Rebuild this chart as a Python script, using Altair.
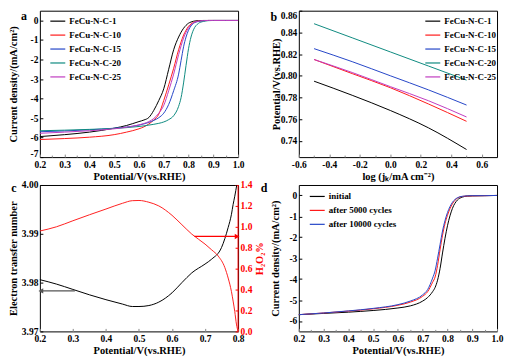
import altair as alt
import pandas as pd

FONT = "Liberation Serif"

# ---------------- panel a : LSV curves ----------------
a_potential = [0.2, 0.3, 0.4, 0.5, 0.55, 0.6, 0.62, 0.64, 0.66, 0.68, 0.7, 0.72, 0.74,
               0.76, 0.77, 0.78, 0.79, 0.8, 0.81, 0.82, 0.84, 0.86, 0.88, 0.9, 0.95, 1.0]
a_series = ["FeCu-N-C-1", "FeCu-N-C-10", "FeCu-N-C-15", "FeCu-N-C-20", "FeCu-N-C-25"]
a_colors = ["#000000", "#ff1a1a", "#2546c8", "#0e8a80", "#c03cc0"]
a_c1 = [-5.95, -5.85, -5.72, -5.52, -5.38, -5.18, -5.1, -4.97, -4.6, -4.1, -3.5, -2.5, -1.5,
        -0.85, -0.6, -0.4, -0.25, -0.14, -0.08, -0.04, -0.01, 0, 0, 0, 0, 0]
a_c10 = [-6.1, -6.05, -5.98, -5.85, -5.72, -5.55, -5.45, -5.3, -5.1, -4.8, -4.1, -3.3, -2.45,
         -1.5, -1.1, -0.75, -0.5, -0.3, -0.18, -0.1, -0.03, -0.01, 0, 0, 0, 0]
a_c15 = [-5.7, -5.66, -5.6, -5.52, -5.46, -5.36, -5.3, -5.22, -5.12, -4.98, -4.75, -4.3, -3.6,
         -2.75, -2.05, -1.35, -0.85, -0.5, -0.28, -0.15, -0.05, -0.02, 0, 0, 0, 0]
a_c20 = [-5.65, -5.62, -5.58, -5.53, -5.49, -5.43, -5.4, -5.36, -5.32, -5.27, -5.2, -5.08, -4.88,
         -4.4, -3.95, -3.2, -2.3, -1.45, -0.85, -0.48, -0.15, -0.05, -0.01, 0, 0, 0]
a_c25 = [-5.78, -5.72, -5.65, -5.55, -5.47, -5.35, -5.28, -5.18, -5.02, -4.75, -4.35, -3.6, -2.75,
         -1.75, -1.3, -0.9, -0.6, -0.38, -0.22, -0.12, -0.04, -0.01, 0, 0, 0, 0]
a_xticks = [0.2, 0.3, 0.4, 0.5, 0.6, 0.7, 0.8, 0.9, 1.0]
a_xminor = [0.25, 0.35, 0.45, 0.55, 0.65, 0.75, 0.85, 0.95]
a_yticks = [-7, -6, -5, -4, -3, -2, -1, 0]

# ---------------- panel b : Tafel ----------------
b_logj = [-0.5, -0.25, 0.0, 0.25, 0.5]
b_c1 = [0.795, 0.782, 0.768, 0.752, 0.732]
b_c10 = [0.815, 0.802, 0.789, 0.774, 0.758]
b_c15 = [0.825, 0.813, 0.800, 0.787, 0.773]
b_c20 = [0.848, 0.835, 0.822, 0.809, 0.796]
b_c25 = [0.815, 0.803, 0.790, 0.777, 0.762]
b_xticks = [-0.6, -0.4, -0.2, 0.0, 0.2, 0.4, 0.6]
b_xminor = [-0.5, -0.3, -0.1, 0.1, 0.3, 0.5]
b_yticks = [0.74, 0.76, 0.78, 0.80, 0.82, 0.84, 0.86]

# ---------------- panel c : n and H2O2 % ----------------
c_pot_n = [0.2, 0.25, 0.3, 0.35, 0.4, 0.45, 0.48, 0.5, 0.53, 0.56, 0.6, 0.63, 0.66, 0.7,
           0.72, 0.75, 0.77, 0.78, 0.785, 0.79, 0.796]
c_n = [3.9806, 3.9797, 3.9786, 3.9775, 3.9765, 3.9756, 3.9751, 3.9751, 3.9753, 3.9760, 3.9779,
       3.9800, 3.9820, 3.9838, 3.9848, 3.9872, 3.9913, 3.9940, 3.9960, 3.9977, 4.0]
c_pot_h = [0.2, 0.25, 0.3, 0.35, 0.4, 0.45, 0.48, 0.5, 0.53, 0.56, 0.6, 0.63, 0.66, 0.7,
           0.72, 0.74, 0.76, 0.77, 0.78, 0.785, 0.79, 0.795, 0.8]
c_h2o2 = [0.96, 1.0, 1.058, 1.115, 1.17, 1.225, 1.25, 1.252, 1.235, 1.2, 1.11, 1.02, 0.93, 0.835,
          0.78, 0.72, 0.61, 0.51, 0.38, 0.29, 0.19, 0.07, 0.0]
c_arrow_n = {"from": 0.306, "to": 0.203, "level": 3.9783}
c_arrow_h = {"from": 0.668, "to": 0.797, "level": 0.908}
c_xticks = [0.2, 0.3, 0.4, 0.5, 0.6, 0.7, 0.8]
c_yticks_left = [3.97, 3.98, 3.99, 4.00]
c_yticks_right = [0.0, 0.2, 0.4, 0.6, 0.8, 1.0, 1.2, 1.4]

# ---------------- panel d : stability ----------------
d_potential = [0.2, 0.3, 0.4, 0.5, 0.6, 0.65, 0.7, 0.72, 0.74, 0.75, 0.76, 0.77, 0.78, 0.79,
               0.8, 0.82, 0.84, 0.86, 0.88, 0.9, 0.95, 1.0]
d_series = ["initial", "after 5000 cycles", "after 10000 cycles"]
d_colors = ["#000000", "#ff1a1a", "#2546c8"]
d_initial = [-5.7, -5.64, -5.58, -5.5, -5.38, -5.28, -5.05, -4.88, -4.6, -4.4, -4.05, -3.5,
             -2.75, -2.05, -1.45, -0.62, -0.22, -0.08, -0.03, -0.02, -0.01, 0]
d_5000 = [-5.7, -5.62, -5.53, -5.42, -5.25, -5.1, -4.82, -4.6, -4.15, -3.9, -3.35, -2.6,
          -1.9, -1.35, -0.95, -0.4, -0.13, -0.05, -0.03, -0.02, -0.01, 0]
d_10000 = [-5.7, -5.62, -5.52, -5.4, -5.22, -5.05, -4.75, -4.5, -3.95, -3.6, -3.0, -2.35,
           -1.7, -1.2, -0.82, -0.33, -0.11, -0.04, -0.02, -0.01, -0.01, 0]
d_xticks = [0.2, 0.3, 0.4, 0.5, 0.6, 0.7, 0.8, 0.9, 1.0]
d_xminor = [0.25, 0.35, 0.45, 0.55, 0.65, 0.75, 0.85, 0.95]
d_yticks = [-6, -5, -4, -3, -2, -1, 0]

W, H = 199, 147
POT_TITLE = "Potential/V(vs.RHE)"
CD_TITLE = "Current density/(mA/cm²)"
HYPHEN = "replace(datum.label, '\u2212', '-')"


def long_df(xs, names, cols, xname, yname):
    rows = []
    for name, col in zip(names, cols):
        for x, y in zip(xs, col):
            rows.append({xname: x, yname: y, "series": name})
    return pd.DataFrame(rows)


def xaxis(values, fmt, title):
    return alt.Axis(values=values, format=fmt, title=title, offset=-3, tickSize=3,
                    domain=False, labelPadding=2, titlePadding=3, labelFlush=False,
                    labelExpr=HYPHEN, orient="bottom")


def minor_axis(values):
    return alt.Axis(values=values, labels=False, title=None, offset=-2, tickSize=2,
                    domain=False, orient="bottom", grid=False)


def yaxis(values, fmt, title, tx, orient="left", color="black", flush=False, flush_offset=0):
    return alt.Axis(values=values, format=fmt, title=title, offset=-3, tickSize=3,
                    domain=False, labelPadding=2, orient=orient, titleX=tx,
                    titleBaseline="middle", titleAngle=270, labelColor=color,
                    tickColor=color, titleColor=color, labelFlush=flush,
                    labelFlushOffset=flush_offset, labelExpr=HYPHEN)


def letter(t, x, y):
    return alt.Chart(pd.DataFrame({"t": [t]})).mark_text(
        font=FONT, fontWeight="bold", fontSize=12, align="center", baseline="middle"
    ).encode(text="t:N", x=alt.value(x), y=alt.value(y))


def legend(x, y, rp):
    return alt.Legend(orient="none", legendX=x, legendY=y, title=None, symbolType="stroke",
                      symbolSize=225, symbolStrokeWidth=1.2, labelFontSize=9, labelOffset=3,
                      rowPadding=rp, padding=0)


def minor_layer(df, field, scale, values):
    return alt.Chart(df).mark_point(opacity=0).encode(
        x=alt.X(f"{field}:Q", scale=scale, axis=minor_axis(values)))


# ---- a ----
df_a = long_df(a_potential, a_series, [a_c1, a_c10, a_c15, a_c20, a_c25], "V", "J")
xs_a = alt.Scale(domain=[0.2, 1.0], nice=False)
pa = alt.Chart(df_a).mark_line(strokeWidth=1, interpolate="monotone").encode(
    x=alt.X("V:Q", scale=xs_a, axis=xaxis(a_xticks, ".1f", POT_TITLE)),
    y=alt.Y("J:Q", scale=alt.Scale(domain=[-7, 0.5], nice=False),
            axis=yaxis(a_yticks, "d", CD_TITLE, -29.5, flush=1, flush_offset=1)),
    color=alt.Color("series:N", scale=alt.Scale(domain=a_series, range=a_colors),
                    legend=legend(9.5, 2, -4.5)),
    detail="series:N",
)
panel_a = alt.layer(pa, minor_layer(df_a, "V", xs_a, a_xminor), letter("a", -16, 5)).resolve_axis(
    x="independent").properties(width=W, height=H)

# ---- b ----
df_b = long_df(b_logj, a_series, [b_c1, b_c10, b_c15, b_c20, b_c25], "L", "P")
xs_b = alt.Scale(domain=[-0.6, 0.7], nice=False, zero=False)
pb = alt.Chart(df_b).mark_line(strokeWidth=1, interpolate="monotone").encode(
    x=alt.X("L:Q", scale=xs_b, axis=xaxis(b_xticks, ".1f", "log (jₖ/mA cm⁻²)")),
    y=alt.Y("P:Q", scale=alt.Scale(domain=[0.725, 0.86], nice=False, zero=False),
            axis=yaxis(b_yticks, ".2f", POT_TITLE, -25, flush=1)),
    color=alt.Color("series:N", scale=alt.Scale(domain=a_series, range=a_colors),
                    legend=legend(126, 2, -4.5)),
    detail="series:N",
)
panel_b = alt.layer(pb, minor_layer(df_b, "L", xs_b, b_xminor), letter("b", -25, 6)).resolve_axis(
    x="independent").properties(width=W, height=H)

# ---- c ----
xs_c = alt.Scale(domain=[0.2, 0.8], nice=False)
ys_n = alt.Scale(domain=[3.97, 4.0], nice=False, zero=False)
ys_h = alt.Scale(domain=[0.0, 1.4], nice=False)
ax_c = xaxis(c_xticks, ".1f", POT_TITLE)
ay_n = yaxis(c_yticks_left, ".2f", "Electron transfer number", -29.5)
ay_h = yaxis(c_yticks_right, ".1f", "H₂O₂%", 25, orient="right", color="#ff0000")

df_cn = pd.DataFrame({"V": c_pot_n, "n": c_n})
df_ch = pd.DataFrame({"V": c_pot_h, "n": c_h2o2})
df_an = pd.DataFrame({"V": [c_arrow_n["from"]], "V2": [c_arrow_n["to"]], "n": [c_arrow_n["level"]]})
df_ah = pd.DataFrame({"V": [c_arrow_h["from"]], "V2": [c_arrow_h["to"]], "n": [c_arrow_h["level"]]})


def c_group(df_line, df_arrow, color, arrow_color, yscale, yax, head_shape):
    line = alt.Chart(df_line).mark_line(color=color, strokeWidth=1, interpolate="monotone").encode(
        x=alt.X("V:Q", scale=xs_c, axis=ax_c),
        y=alt.Y("n:Q", scale=yscale, axis=yax),
    )
    rule = alt.Chart(df_arrow).mark_rule(color=arrow_color, strokeWidth=1.2).encode(
        x=alt.X("V:Q", scale=xs_c, axis=ax_c), x2="V2:Q",
        y=alt.Y("n:Q", scale=yscale, axis=yax),
    )
    head = alt.Chart(df_arrow).transform_calculate(V="datum.V2").mark_point(
        shape=head_shape, filled=True, size=30, color=arrow_color, opacity=1).encode(
        x=alt.X("V:Q", scale=xs_c, axis=ax_c),
        y=alt.Y("n:Q", scale=yscale, axis=yax),
    )
    return alt.layer(line, rule, head)


left_c = c_group(df_cn, df_an, "black", "#555555", ys_n, ay_n, "triangle-left")
right_c = c_group(df_ch, df_ah, "#ff2020", "#ff0000", ys_h, ay_h, "triangle-right")
c_edge = alt.Chart(pd.DataFrame({"k": [0]})).mark_rule(color="#ff0000", strokeWidth=1).encode(
    x=alt.value(W), y=alt.value(0), y2=alt.value(H))
panel_c = alt.layer(left_c, right_c, c_edge, letter("c", -26, 3)).resolve_scale(
    y="independent").properties(width=W, height=H)

# ---- d ----
df_d = long_df(d_potential, d_series, [d_initial, d_5000, d_10000], "V", "J")
xs_d = alt.Scale(domain=[0.2, 1.0], nice=False)
pd_line = alt.Chart(df_d).mark_line(strokeWidth=1, interpolate="monotone").encode(
    x=alt.X("V:Q", scale=xs_d, axis=xaxis(d_xticks, ".1f", POT_TITLE)),
    y=alt.Y("J:Q", scale=alt.Scale(domain=[-6.5, 0.5], nice=False),
            axis=yaxis(d_yticks, "d", CD_TITLE, -26.5)),
    color=alt.Color("series:N", scale=alt.Scale(domain=d_series, range=d_colors),
                    legend=legend(10, 3, -4.5)),
    detail="series:N",
)
panel_d = alt.layer(pd_line, minor_layer(df_d, "V", xs_d, d_xminor), letter("d", -35, 3)).resolve_axis(
    x="independent").properties(width=W, height=H)

chart = alt.concat(panel_a, panel_b, panel_c, panel_d, columns=2,
                   spacing={"row": 28, "column": 61}, bounds="flush").resolve_scale(
    color="independent", x="independent", y="independent"
).properties(padding=0).configure_view(
    stroke="black", strokeWidth=1
).configure_axis(
    labelFont=FONT, titleFont=FONT, labelFontWeight="bold", titleFontWeight="bold",
    labelFontSize=9.5, titleFontSize=10.5, grid=False
).configure_legend(
    labelFont=FONT, labelFontWeight="bold"
)

chart.save("out.html", embed_options={"renderer": "svg", "actions": False})
